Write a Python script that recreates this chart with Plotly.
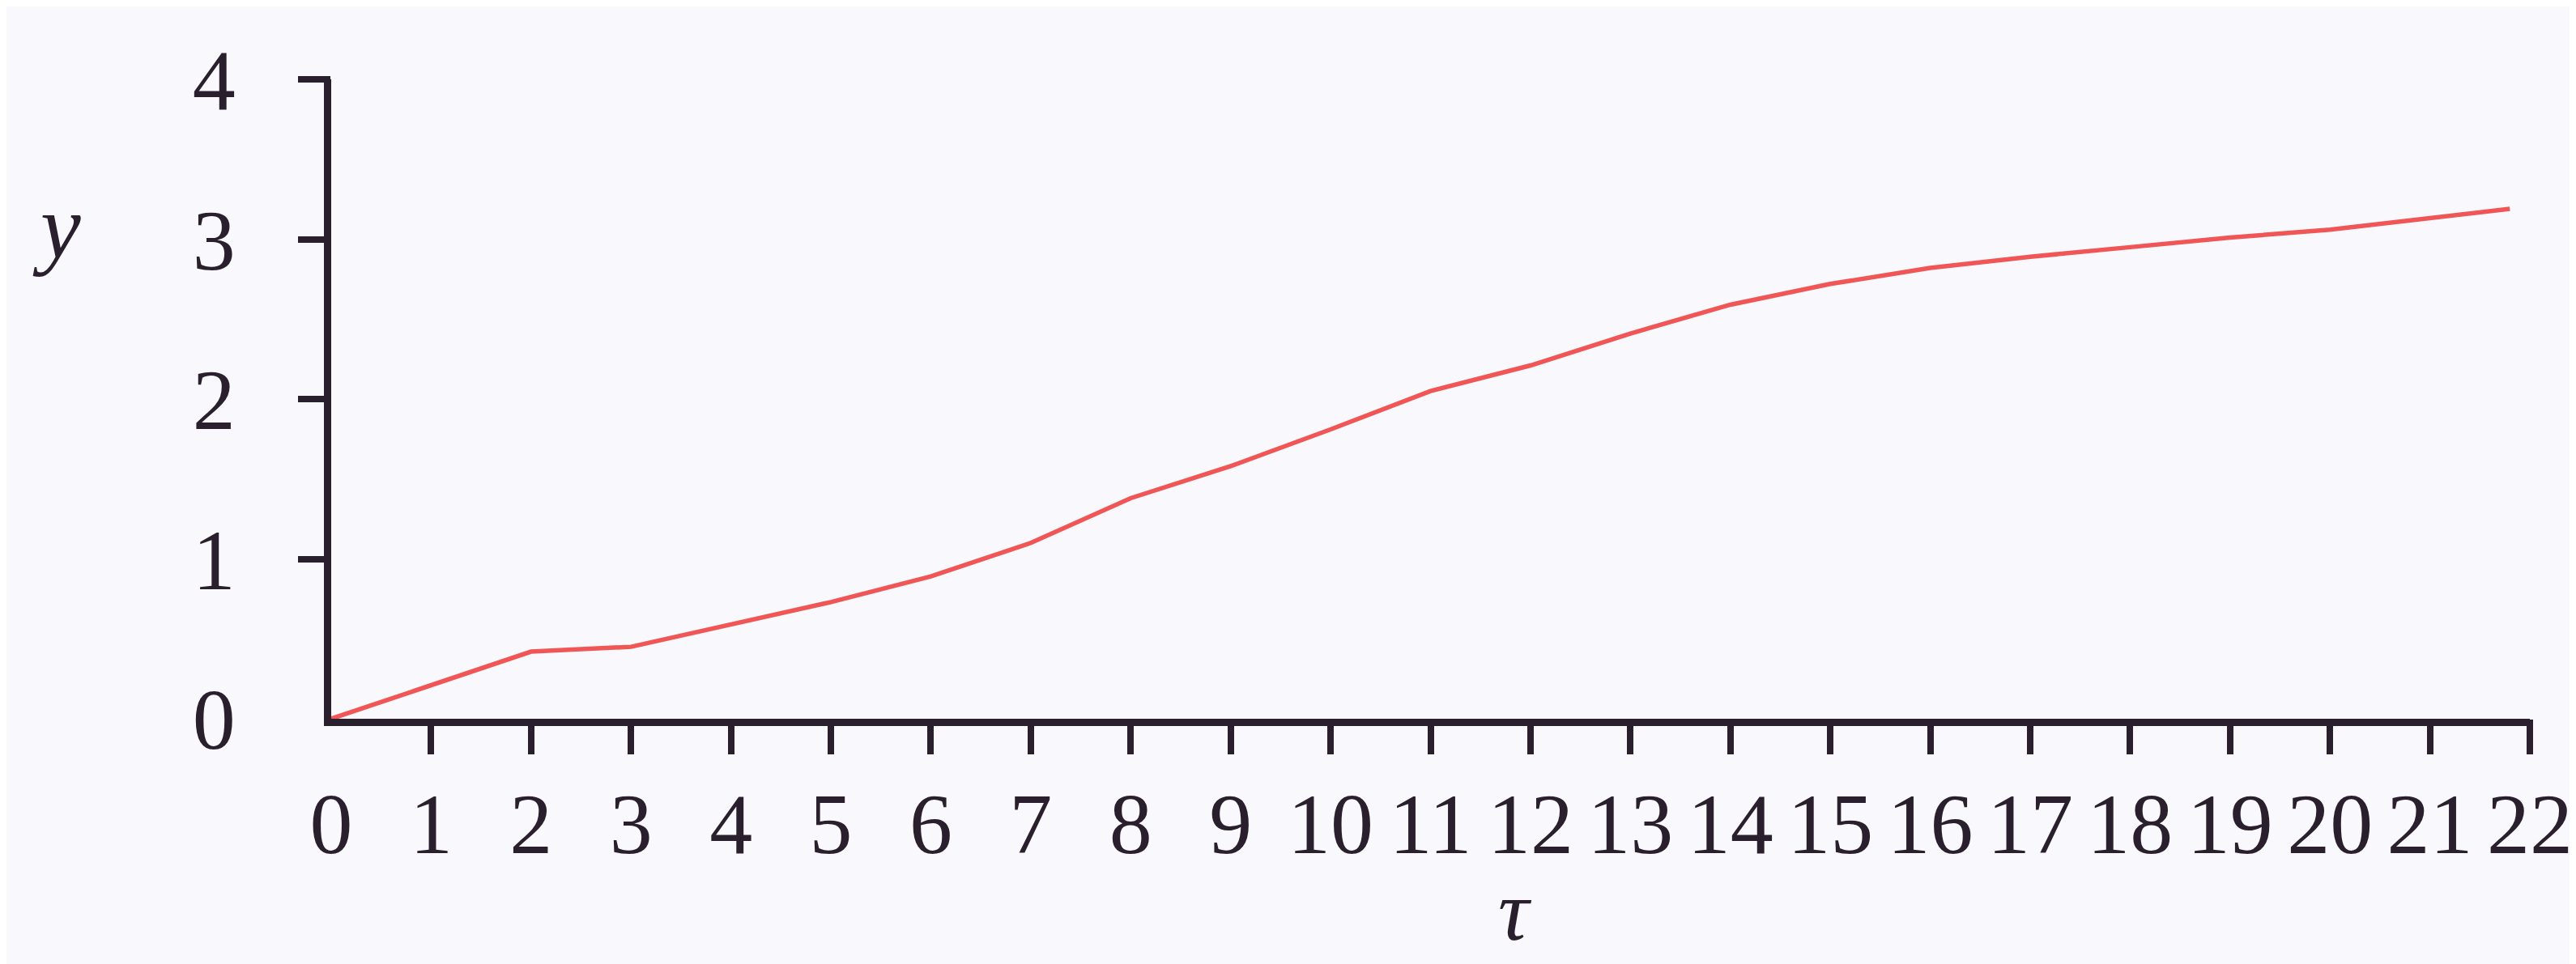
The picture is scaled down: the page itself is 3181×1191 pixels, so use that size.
import plotly.graph_objects as go

# Data
tau = [0, 1, 2, 3, 4, 5, 6, 7, 8, 9, 10, 11, 12, 13, 14, 15, 16, 17, 18, 19, 20, 21, 21.8]
y_vals = [0.0, 0.21, 0.42, 0.45, 0.59, 0.73, 0.89, 1.10, 1.38, 1.58, 1.81, 2.05, 2.21,
          2.41, 2.59, 2.72, 2.82, 2.89, 2.95, 3.01, 3.06, 3.13, 3.19]

x_tick_vals = list(range(0, 23))
x_tick_text = [str(v) for v in x_tick_vals]
x_tick_marks = list(range(1, 23))
y_tick_vals = [0, 1, 2, 3, 4]
y_tick_text = [str(v) for v in y_tick_vals]
y_tick_marks = [1, 2, 3, 4]

INK = "#2a1f2d"
BG = "#f9f9fd"
LINE = "#f05656"
FONT = "Liberation Serif"
FS = 106

fig = go.Figure()
fig.add_trace(go.Scatter(x=tau, y=y_vals, mode="lines",
                         line=dict(color=LINE, width=5.5), showlegend=False,
                         xaxis="x", yaxis="y"))
# empty trace so the tick-mark overlay axes are drawn
fig.add_trace(go.Scatter(x=[], y=[], mode="lines", showlegend=False,
                         xaxis="x2", yaxis="y2", hoverinfo="skip"))

fig.update_layout(
    width=3181, height=1191,
    margin=dict(l=401, r=63, t=90, b=311),
    paper_bgcolor=BG, plot_bgcolor=BG,
    font=dict(family=FONT, size=FS, color=INK),
    xaxis=dict(range=[0, 22], tickvals=x_tick_vals, ticktext=x_tick_text,
               ticks="", showgrid=False, zeroline=False,
               showline=True, linecolor=INK, linewidth=9,
               ticklabelstandoff=30,
               tickfont=dict(family=FONT, size=FS, color=INK)),
    yaxis=dict(range=[0, 4], tickvals=y_tick_vals, ticktext=y_tick_text,
               ticks="", showgrid=False, zeroline=False,
               showline=True, linecolor=INK, linewidth=9,
               ticklabelstandoff=88,
               tickfont=dict(family=FONT, size=FS, color=INK)),
    xaxis2=dict(range=[0, 22], overlaying="x", anchor="y2", side="bottom",
                tickvals=x_tick_marks, ticks="outside", ticklen=43, tickwidth=8,
                tickcolor=INK, showticklabels=False, showgrid=False,
                zeroline=False, showline=False),
    yaxis2=dict(range=[0, 4], overlaying="y", anchor="x2", side="left",
                tickvals=y_tick_marks, ticks="outside", ticklen=40, tickwidth=8,
                tickcolor=INK, showticklabels=False, showgrid=False,
                zeroline=False, showline=False),
    annotations=[
        dict(text="<i>y</i>", xref="paper", yref="paper", x=-0.125, y=0.77,
             xanchor="center", yanchor="middle", showarrow=False,
             font=dict(family=FONT, size=FS + 6, color=INK)),
        dict(text="<i>τ</i>", xref="x", yref="paper", x=11.85, y=-0.30,
             xanchor="center", yanchor="middle", showarrow=False,
             font=dict(family=FONT, size=FS, color=INK)),
    ],
)

fig.write_html("out.html")
